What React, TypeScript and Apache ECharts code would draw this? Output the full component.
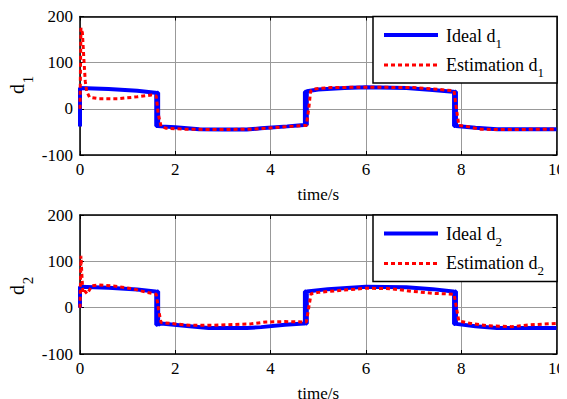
import React, { useEffect, useRef } from "react";
import * as echarts from "echarts";

const FONT = "Times New Roman";

// x (time) tick range
const X_MIN = 0;
const X_MAX = 10;
const X_STEP = 2;
const Y_MIN = -100;
const Y_MAX = 200;
const Y_STEP = 100;

// ---- Panel 1: d1 ----
const tIdeal1 = [0, 0, 0.6, 1.2, 1.58, 1.6, 1.6, 1.62, 1.62, 1.64, 1.64, 1.7, 2.0, 2.5, 3.0, 3.5, 3.8, 4.35, 4.7, 4.72, 4.72, 4.74, 4.74, 4.76, 4.76, 5.0, 5.55, 6.0, 6.85, 7.4, 7.83, 7.85, 7.85, 7.87, 7.87, 7.89, 7.89, 8.3, 8.75, 10];
const vIdeal1 = [-38, 45, 43, 39, 35, 35, -37, -37, 35, 35, -37, -38, -40, -44, -45, -45, -42, -38, -35, -35, 37, 37, -35, -35, 38, 42, 45, 47, 45, 41, 37, 37, -37, -37, 37, 37, -37, -41, -44, -44];

const tEst1 = [0, 0.02, 0.05, 0.08, 0.11, 0.14, 0.2, 0.4, 0.8, 1.2, 1.5, 1.6, 1.64, 1.7, 1.8, 2.2, 2.9, 3.6, 3.9, 4.4, 4.75, 4.8, 4.84, 4.9, 5.27, 6.0, 7.0, 7.55, 7.85, 7.9, 7.95, 8.1, 8.4, 8.7, 10];
const vEst1 = [0, 175, 165, 110, 60, 38, 25, 22, 22, 26, 30, 28, -10, -38, -42, -44, -45, -44, -42, -38, -36, 0, 38, 43, 46, 47, 46, 42, 39, 0, -36, -38, -44, -45, -44];

// ---- Panel 2: d2 ----
const tIdeal2 = [0, 0, 0.6, 1.2, 1.58, 1.6, 1.6, 1.62, 1.62, 1.64, 1.64, 1.7, 2.3, 2.7, 3.5, 3.8, 4.3, 4.7, 4.72, 4.72, 4.74, 4.74, 4.76, 4.76, 5.2, 6.0, 6.85, 7.4, 7.83, 7.85, 7.85, 7.87, 7.87, 7.89, 7.89, 8.3, 8.75, 10];
const vIdeal2 = [0, 45, 43, 39, 35, 35, -37, -37, 35, 35, -37, -34, -40, -44, -44, -42, -37, -34, -34, 35, 35, -34, -34, 35, 40, 45, 44, 40, 35, 35, -35, -35, 35, 35, -35, -40, -44, -44];

const tEst2 = [0, 0.02, 0.04, 0.06, 0.1, 0.15, 0.25, 0.4, 0.7, 1.1, 1.4, 1.6, 1.65, 1.7, 2.0, 2.3, 2.8, 3.58, 3.9, 4.3, 4.75, 4.8, 4.85, 5.0, 5.55, 6.0, 6.5, 7.0, 7.4, 7.85, 7.9, 7.95, 8.2, 8.55, 9.05, 9.45, 10];
const vEst2 = [0, 112, 70, 32, 36, 30, 47, 49, 47, 41, 33, 29, -5, -32, -35, -38, -38, -35, -31, -30, -31, 0, 30, 33, 38, 42, 41, 35, 31, 29, 0, -29, -34, -39, -41, -37, -34];

const legendLabels = [
  ["Ideal d", "1", "Estimation d", "1"],
  ["Ideal d", "2", "Estimation d", "2"],
];
const yNames = [["d", "1"], ["d", "2"]];

const BLUE = "#0000ff";
const RED = "#ff0000";

// the chart div sits in the page flow after the body's 8px margin
const OFF = 8;

function zip(t: number[], v: number[]) {
  return t.map((x, i) => [x, v[i]]);
}

export default function App() {
  const ref = useRef<HTMLDivElement>(null);

  useEffect(() => {
    if (!ref.current) return;
    const chart = echarts.init(ref.current, undefined, { renderer: "svg" });

    const grids = [
      { left: 80 - OFF, top: 16 - OFF, width: 476.5, height: 139 },
      { left: 80 - OFF, top: 215 - OFF, width: 476.5, height: 139 },
    ];

    const xAxes: any[] = [];
    const yAxes: any[] = [];
    grids.forEach((_, i) => {
      xAxes.push({
        type: "value",
        gridIndex: i,
        min: X_MIN,
        max: X_MAX,
        interval: X_STEP,
        position: "bottom",
        axisLine: { show: true, onZero: false, lineStyle: { color: "#000", width: 1.5 } },
        axisTick: { show: true, inside: true, length: 4, lineStyle: { color: "#000" } },
        axisLabel: { fontSize: 17, fontFamily: FONT, color: "#000", margin: 6 },
        splitLine: { show: true, lineStyle: { color: "#999", width: 1 } },
        name: "time/s",
        nameLocation: "middle",
        nameGap: 31,
        nameTextStyle: { fontSize: 17, fontFamily: FONT, color: "#000" },
      });
      xAxes.push({
        type: "value",
        gridIndex: i,
        min: X_MIN,
        max: X_MAX,
        interval: X_STEP,
        position: "top",
        axisLine: { show: true, onZero: false, lineStyle: { color: "#000", width: 1.5 } },
        axisTick: { show: true, inside: true, length: 4, lineStyle: { color: "#000" } },
        axisLabel: { show: false },
        splitLine: { show: false },
      });
      yAxes.push({
        type: "value",
        gridIndex: i,
        min: Y_MIN,
        max: Y_MAX,
        interval: Y_STEP,
        position: "left",
        axisLine: { show: true, onZero: false, lineStyle: { color: "#000", width: 1.5 } },
        axisTick: { show: true, inside: true, length: 4, lineStyle: { color: "#000" } },
        axisLabel: { fontSize: 17, fontFamily: FONT, color: "#000", margin: 7 },
        splitLine: { show: true, lineStyle: { color: "#999", width: 1 } },
      });
      yAxes.push({
        type: "value",
        gridIndex: i,
        min: Y_MIN,
        max: Y_MAX,
        interval: Y_STEP,
        position: "right",
        axisLine: { show: true, onZero: false, lineStyle: { color: "#000", width: 1.5 } },
        axisTick: { show: true, inside: true, length: 4, lineStyle: { color: "#000" } },
        axisLabel: { show: false },
        splitLine: { show: false },
      });
    });

    const blue = (data: number[][], i: number) => ({
      type: "line",
      xAxisIndex: 2 * i,
      yAxisIndex: 2 * i,
      data,
      symbol: "none",
      z: 2,
      lineStyle: { color: BLUE, width: 4 },
    });
    const red = (data: number[][], i: number) => ({
      type: "line",
      xAxisIndex: 2 * i,
      yAxisIndex: 2 * i,
      data,
      symbol: "none",
      z: 3,
      lineStyle: { color: RED, width: 3, type: [4, 3] },
    });

    const rich = {
      m: { fontSize: 18, lineHeight: 18, fontFamily: FONT, color: "#000", verticalAlign: "top" },
      s: { fontSize: 13, lineHeight: 13, fontFamily: FONT, color: "#000", verticalAlign: "top", padding: [10, 0, 0, 0] },
    };

    const graphic: any[] = [];
    const legendTops = [16.5, 215];
    legendTops.forEach((pageTop, i) => {
      const top = pageTop - OFF;
      const [a, as, b, bs] = legendLabels[i];
      graphic.push({
        type: "rect",
        z: 100,
        shape: { x: 373 - OFF, y: top, width: 184, height: 66.5 },
        style: { fill: "#fff", stroke: "#000", lineWidth: 1.5 },
      });
      graphic.push({
        type: "line",
        z: 101,
        shape: { x1: 384 - OFF, y1: top + 18.5, x2: 438 - OFF, y2: top + 18.5 },
        style: { stroke: BLUE, lineWidth: 4 },
      });
      graphic.push({
        type: "line",
        z: 101,
        shape: { x1: 384 - OFF, y1: top + 48.5, x2: 438 - OFF, y2: top + 48.5 },
        style: { stroke: RED, lineWidth: 3, lineDash: [4, 3] },
      });
      graphic.push({
        type: "text", z: 101, x: 446 - OFF, y: top + 19,
        style: {
          text: `{m|${a}}{s|${as}}`, fontSize: 18, fontFamily: FONT, fill: "#000", align: "left", verticalAlign: "middle",
          rich,
        },
      });
      graphic.push({
        type: "text", z: 101, x: 446 - OFF, y: top + 48,
        style: {
          text: `{m|${b}}{s|${bs}}`, fontSize: 18, fontFamily: FONT, fill: "#000", align: "left", verticalAlign: "middle",
          rich,
        },
      });
      // rotated y-axis name
      const cy = (i === 0 ? 89 : 290) - OFF;
      graphic.push({
        type: "text", z: 101, x: 17 - OFF, y: cy, rotation: Math.PI / 2,
        style: { text: yNames[i][0], fontSize: 20, fontFamily: FONT, fill: "#000", align: "center", verticalAlign: "middle" },
      });
      graphic.push({
        type: "text", z: 101, x: 28 - OFF, y: cy - 9.5, rotation: Math.PI / 2,
        style: { text: yNames[i][1], fontSize: 15, fontFamily: FONT, fill: "#000", align: "center", verticalAlign: "middle" },
      });
    });

    chart.setOption({
      animation: false,
      backgroundColor: "#fff",
      grid: grids,
      xAxis: xAxes,
      yAxis: yAxes,
      series: [
        blue(zip(tIdeal1, vIdeal1), 0),
        red(zip(tEst1, vEst1), 0),
        blue(zip(tIdeal2, vIdeal2), 1),
        red(zip(tEst2, vEst2), 1),
      ],
      graphic,
    });

    return () => chart.dispose();
  }, []);

  return <div ref={ref} style={{ width: 567, height: 399 }} />;
}
